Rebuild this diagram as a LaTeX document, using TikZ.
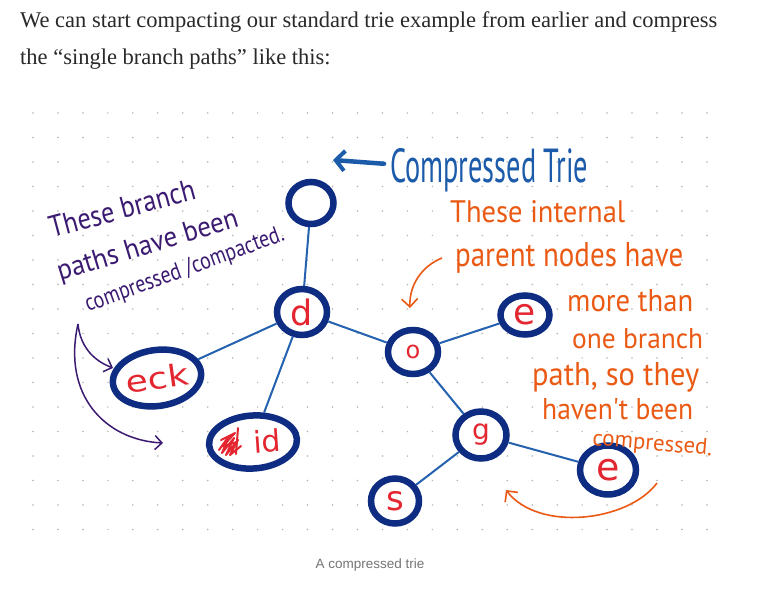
\documentclass[tikz,border=0pt]{standalone}
\usepackage{fontspec}
\setmainfont{Liberation Serif}
\newfontfamily\handfont{PT Sans}
\newfontfamily\capfont{Liberation Sans}
\newfontfamily\labfont{DejaVu Sans}
\usetikzlibrary{shapes.geometric,arrows.meta}
\definecolor{navy}{HTML}{0D2C82}
\definecolor{edgeblue}{HTML}{2462B0}
\definecolor{labred}{HTML}{E3262F}
\definecolor{orng}{HTML}{EA5A14}
\definecolor{purp}{HTML}{3B1A72}
\definecolor{titleblue}{HTML}{1C5BAA}
\definecolor{bodytext}{HTML}{292929}
\definecolor{capgray}{HTML}{757575}
\definecolor{dotc}{HTML}{B4B4B4}
\newcommand\hw[3]{\resizebox{#1pt}{#2pt}{#3}}
\newcommand\lsz[1]{\fontsize{#1}{#1}\selectfont}
\begin{document}
\begin{tikzpicture}[x=1pt,y=-1pt,
  tnode/.style={ellipse, draw=navy, line width=6.5pt, fill=white, inner sep=0pt, text=labred},
  tedge/.style={edgeblue, line width=2pt},
  hand/.style={inner sep=0pt, font=\handfont},
  orangetxt/.style={hand, text=orng, anchor=base west},
  purpletxt/.style={hand, text=purp, anchor=base west},
  parrow/.style={purp, line width=1.5pt, -{Straight Barb[length=7pt,width=14pt,line width=1.5pt]}},
  oarrow/.style={orng, line width=1.6pt, -{Straight Barb[length=8pt,width=16pt,line width=1.6pt]}},
  scrib/.style={labred, line width=2pt, line cap=round, line join=round}]
\useasboundingbox (0,0) rectangle (780,595);
\fill[white] (0,0) rectangle (780,595);

% intro text
\node[anchor=base west, inner sep=0pt, text=bodytext] (intro) at (20,27)
  {\resizebox{697pt}{!}{\fontsize{20}{33.5}\selectfont\begin{tabular}[t]{@{}l@{}}We can start compacting our standard trie example from earlier and compress\\the “single branch paths” like this:\end{tabular}}};

% dot grid
\foreach \i in {0,...,27}
  \foreach \j in {0,...,17}
    \fill[dotc] (33+\i*24.96, 113+\j*24.5) circle (0.85);

% trie nodes
\node[tnode, minimum width=45pt, minimum height=42pt] (root) at (311,203) {};
\node[tnode, minimum width=50pt, minimum height=46pt, font=\labfont\lsz{35}] (d) at (302,312) {d};
\node[tnode, minimum width=85pt, minimum height=56pt, rotate=8, font=\labfont\lsz{30}] (eck) at (157,378) {\scalebox{1.2}[1]{eck}};
\node[tnode, minimum width=88pt, minimum height=53pt, rotate=4, font=\labfont\lsz{30}] (id) at (253,442) {\hspace*{28pt}id};
\node[tnode, minimum width=50pt, minimum height=44pt, font=\labfont\lsz{24}] (o) at (413,352) {o};
\node[tnode, minimum width=49pt, minimum height=39pt, font=\labfont\lsz{36}] (e1) at (525,315) {e};
\node[tnode, minimum width=51pt, minimum height=47pt, font=\labfont\lsz{28}] (g) at (481,435) {g};
\node[tnode, minimum width=56pt, minimum height=49pt, font=\labfont\lsz{38}] (e2) at (608,470) {e};
\node[tnode, minimum width=48pt, minimum height=45pt, font=\labfont\lsz{34}] (s) at (395,501) {s};

% scribbled-out letter in "id"
\begin{scope}[shift={(id.center)}]
  \draw[scrib] (-34,8) -- (-24,-6) -- (-31,11) -- (-19,-4) -- (-27,13) -- (-15,-2) -- (-23,13) -- (-12,4);
  \draw[scrib] (-15,-14) -- (-17,12);
  \draw[scrib] (-32,-2) -- (-18,-9) -- (-30,4) -- (-16,0);
\end{scope}

% edges
\draw[tedge] (root) -- (d);
\draw[tedge] (d) -- (eck);
\draw[tedge] (d) -- (id);
\draw[tedge] (d) -- (o);
\draw[tedge] (o) -- (e1);
\draw[tedge] (o) -- (g);
\draw[tedge] (g) -- (s);
\draw[tedge] (g) -- (e2);

% title
\node[hand, text=titleblue, anchor=base west] (title) at (390,182) {\hw{198}{34}{Compressed Trie}};
\coordinate (titletip) at (333,160);
\draw[titleblue, line width=4.5pt, line cap=round, -{Straight Barb[length=9pt,width=20pt,line width=4pt]}] (title.west) ++(-6,-6) coordinate (titlestart) -- (titletip);

% purple note
\node[purpletxt, rotate=15] (p1) at (52,238) {\hw{150}{21}{These branch}};
\node[purpletxt, rotate=17] (p2) at (60,281) {\hw{188}{20}{paths have been}};
\node[purpletxt, rotate=20] (p3) at (88,312) {\hw{210}{17}{compressed /compacted.}};
\coordinate (pstart) at (78,324);
\coordinate (ptip1) at (113,368);
\coordinate (ptip2) at (163,443);
\draw[parrow] (pstart) .. controls (80,345) and (92,360) .. (ptip1);
\draw[parrow] (pstart) .. controls (62,395) and (105,440) .. (ptip2);

% orange note
\node[orangetxt] (o1) at (450,222) {\hw{175}{22}{These internal}};
\node[orangetxt] (o2) at (455,266) {\hw{228}{24}{parent nodes have}};
\node[orangetxt] (o3) at (567,311) {\hw{126}{22}{more than}};
\node[orangetxt] (o4) at (572,348) {\hw{131}{20}{one branch}};
\node[orangetxt] (o5) at (532,385) {\hw{167}{23}{path, so they}};
\node[orangetxt] (o6) at (542,419) {\hw{151}{21}{haven't been}};
\node[orangetxt, rotate=-5] (o7) at (592,445) {\hw{120}{16}{compressed.}};
\coordinate (oa1) at (442,258);
\coordinate (oa1tip) at (410,308);
\draw[oarrow] (oa1) .. controls (422,266) and (409,285) .. (oa1tip);
\coordinate (oa2) at (657,483);
\coordinate (oa2tip) at (506,490);
\draw[oarrow] (oa2) .. controls (628,522) and (538,532) .. (oa2tip);

% caption
\node[inner sep=0pt, text=capgray, font=\capfont\lsz{13.5}] (cap) at (370,565) {A compressed trie};
\end{tikzpicture}
\end{document}
